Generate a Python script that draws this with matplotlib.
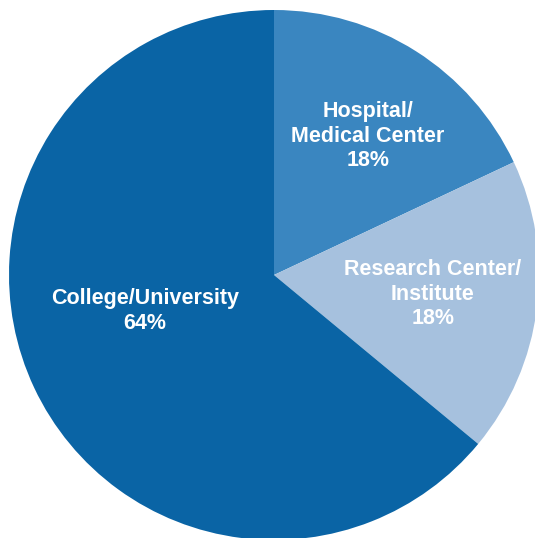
import matplotlib
matplotlib.use("Agg")
import matplotlib.pyplot as plt

# data
categories = ["Hospital/\nMedical Center", "Research Center/\nInstitute", "College/University"]
shares = [18, 18, 64]
colors = ["#3a86c0", "#a6c1de", "#0a64a5"]

W, H = 535, 538
fig = plt.figure(figsize=(W / 100, H / 100), dpi=100)
ax = fig.add_axes([0, 0, 1, 1])

cx, cy, r = 274, H - 275, 265
ax.pie(shares, colors=colors, startangle=90, counterclock=False,
       center=(cx, cy), radius=r, frame=True,
       wedgeprops=dict(linewidth=0))

# label positions in pixel coordinates (x, y from top)
label_pos = [(368, 136), (433, 294), (145, 311)]
for name, val, (lx, ly) in zip(categories, shares, label_pos):
    ax.text(lx, H - ly, f"{name}\n{val}%", ha="center", va="center",
            color="white", fontsize=15.5, fontweight="bold",
            family="Liberation Sans", linespacing=1.2)

ax.set_xlim(0, W)
ax.set_ylim(0, H)
ax.set_aspect("equal")
ax.axis("off")

fig.savefig("out.png", dpi=100)
